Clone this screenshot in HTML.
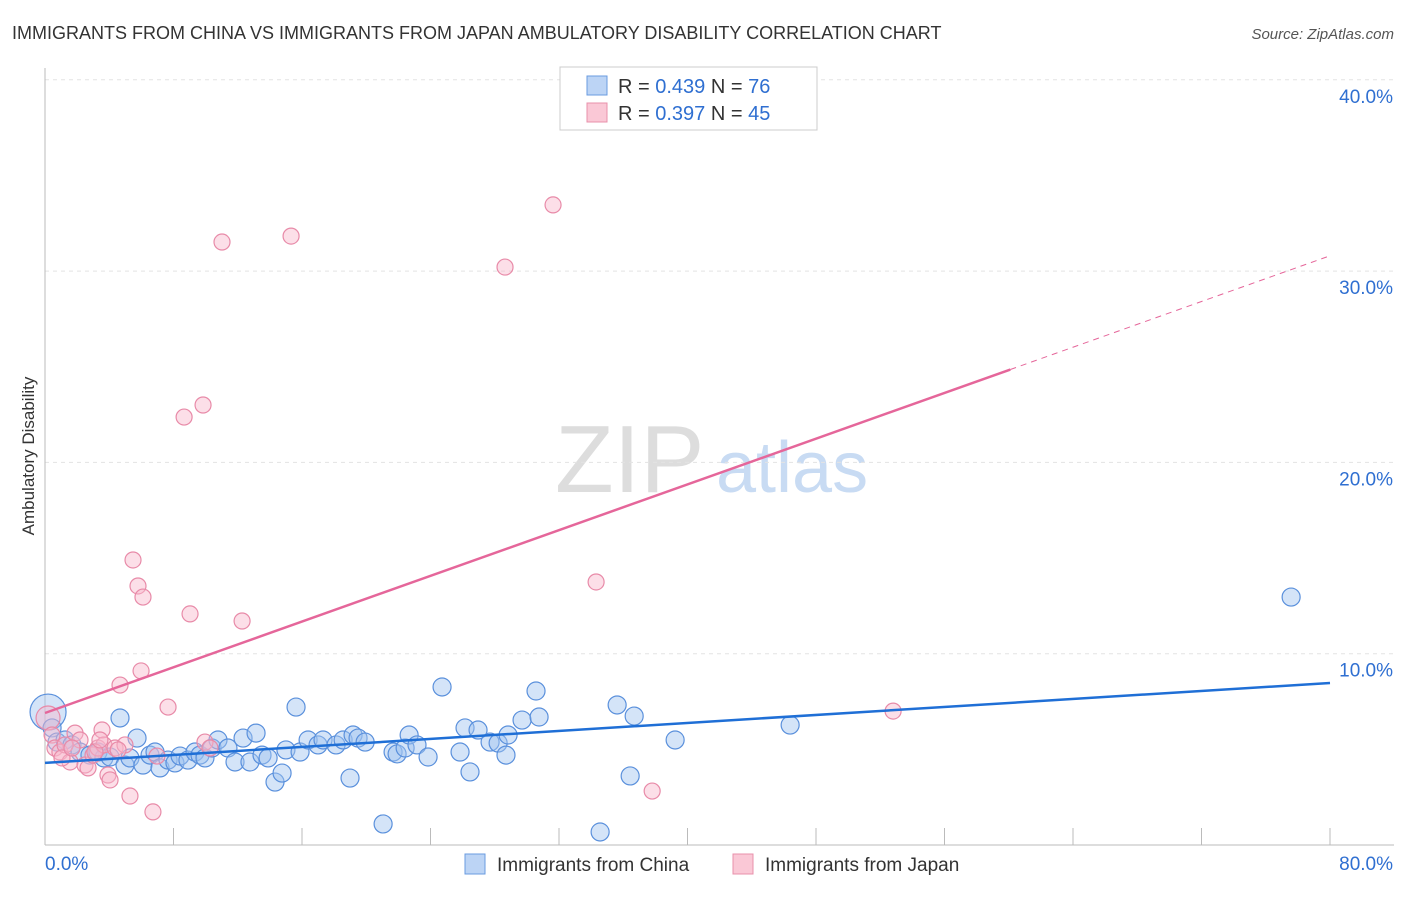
<!DOCTYPE html>
<html><head><meta charset="utf-8"><style>
body{margin:0;background:#fff;font-family:"Liberation Sans",sans-serif;}
svg text{font-family:"Liberation Sans",sans-serif;}
</style></head><body>
<svg id="chart" width="1406" height="892" xmlns="http://www.w3.org/2000/svg">
<text x="12" y="39" font-size="18" fill="#333">IMMIGRANTS FROM CHINA VS IMMIGRANTS FROM JAPAN AMBULATORY DISABILITY CORRELATION CHART</text>
<text x="1394" y="39" font-size="15" fill="#555" font-style="italic" text-anchor="end">Source: ZipAtlas.com</text>
<text transform="translate(34,456) rotate(-90)" font-size="17" fill="#333" text-anchor="middle">Ambulatory Disability</text>
<g><text x="555" y="492" font-size="96" fill="#ddd" font-family="Liberation Serif,serif">ZIP</text><text x="716" y="492" font-size="72" fill="#c8dbf3">atlas</text></g>
<g id="grid"></g>
<g id="axes"></g>
<g id="china"></g>
<g id="japan"></g>
<g id="trends"></g>
<g>
<rect x="560" y="67" width="257" height="63" fill="#fff" stroke="#ccc"/>
<rect x="587" y="76" width="20" height="19" fill="#bcd4f5" stroke="#6a9be0"/>
<rect x="587" y="103" width="20" height="19" fill="#fac8d6" stroke="#e890ab"/>
<text x="618" y="93" font-size="20" fill="#333">R = <tspan fill="#2f6fd1">0.439</tspan>   N = <tspan fill="#2f6fd1">76</tspan></text>
<text x="618" y="120" font-size="20" fill="#333">R = <tspan fill="#2f6fd1">0.397</tspan>   N = <tspan fill="#2f6fd1">45</tspan></text>
</g>
<g>
<rect x="465" y="854" width="20" height="20" fill="#bcd4f5" stroke="#6a9be0"/>
<text x="497" y="871" font-size="19" fill="#333">Immigrants from China</text>
<rect x="733" y="854" width="20" height="20" fill="#fac8d6" stroke="#e890ab"/>
<text x="765" y="871" font-size="19" fill="#333">Immigrants from Japan</text>
</g>
</svg>
<script>
const yTicks=[10,20,30,40];
const yTickLabels=["10.0%","20.0%","30.0%","40.0%"];
const xTickLabels=["0.0%","80.0%"];
const chinaX=[0.19,0.44,0.75,1.25,1.68,2.18,2.8,3.3,3.67,4.05,4.67,4.98,5.29,5.73,6.1,6.54,6.85,7.16,7.66,8.09,8.41,8.9,9.34,9.65,9.96,10.4,10.77,11.39,11.83,12.33,12.76,13.14,13.51,13.89,14.32,14.76,15.0,15.63,15.88,16.38,17.0,17.31,18.12,18.56,18.99,19.18,19.49,19.93,21.05,21.67,21.92,22.42,22.67,23.16,23.85,24.72,25.84,26.15,26.46,26.96,27.71,28.21,28.7,28.83,29.7,30.57,30.76,34.56,35.62,36.43,36.68,39.23,46.39,77.58];
const chinaY=[6.95,6.12,5.38,5.49,5.23,4.86,4.7,4.86,4.55,4.6,6.64,4.18,4.55,5.59,4.18,4.7,4.86,4.03,4.44,4.29,4.65,4.44,4.86,4.7,4.55,5.07,5.49,5.07,4.34,5.59,4.34,5.85,4.7,4.55,3.29,3.76,4.97,7.21,4.86,5.49,5.23,5.49,5.23,5.49,3.5,5.75,5.59,5.38,1.1,4.86,4.76,5.07,5.75,5.23,4.6,8.26,4.86,6.12,3.82,6.01,5.38,5.33,4.7,5.75,6.53,8.05,6.69,0.68,7.32,3.61,6.74,5.49,6.27,12.96];
const japanX=[0.19,0.44,0.62,0.93,1.25,1.56,1.87,2.18,2.49,2.68,2.99,3.3,3.55,3.67,3.92,4.05,4.36,4.67,4.98,5.29,5.48,5.79,6.1,5.98,6.72,6.97,7.66,8.66,9.03,9.84,9.96,10.27,11.02,12.27,15.32,28.64,31.63,34.31,37.8,52.8,1.06,1.68,3.11,4.55,3.42];
const japanY=[6.64,5.75,5.07,4.86,5.23,4.34,5.85,5.49,4.18,4.03,4.7,5.07,6.01,5.23,3.66,3.4,5.07,8.36,5.23,2.56,14.9,13.54,12.96,9.1,1.73,4.65,7.21,22.37,12.08,23.0,5.38,5.07,31.52,11.71,31.83,30.21,33.46,13.75,2.82,7.0,4.55,5.07,4.86,4.97,5.49];
const chinaTrend=[4.29,8.47];
const japanTrend=[6.9,30.8];
const japanSolidEnd=60.1;
const NS="http://www.w3.org/2000/svg";
const X=v=>45+v/80*1285;
const Y=v=>845-v*19.13;
function mk(tag,attrs,parent){const e=document.createElementNS(NS,tag);for(const k in attrs)e.setAttribute(k,attrs[k]);parent.appendChild(e);return e;}
const grid=document.getElementById('grid'),axes=document.getElementById('axes');
yTicks.forEach((t,i)=>{
 const l=mk('line',{x1:45,x2:1394,y1:Y(t),y2:Y(t),stroke:'#e3e3e3','stroke-dasharray':'4,4'},grid);
 
 
 const tx=mk('text',{x:1393,y:Y(t)+23,'font-size':19,fill:'#2f6fd1','text-anchor':'end'},axes);
 tx.textContent=yTickLabels[i];
 
 
});
const ax=mk('line',{x1:45,x2:45,y1:68,y2:845,stroke:'#bbb'},axes);


const bx=mk('line',{x1:45,x2:1394,y1:845,y2:845,stroke:'#bbb'},axes);


for(let i=1;i<=10;i++){const t=mk('line',{x1:X(i*8),x2:X(i*8),y1:828,y2:845,stroke:'#bbb'},axes);
 
 }
[[0,'start',45],[1,'end',1393]].forEach(([i,a,x])=>{const t=mk('text',{x:x,y:870,'font-size':19,fill:'#2f6fd1','text-anchor':a},axes);t.textContent=xTickLabels[i];
 
 });
const cg=document.getElementById('china');
chinaX.forEach((v,i)=>{const c=mk('circle',{cx:X(v),cy:Y(chinaY[i]),r:i===0?18:9,fill:'rgba(160,196,240,0.45)',stroke:'#5a90dc','stroke-width':1.2},cg);
 
 });
const jg=document.getElementById('japan');
japanX.forEach((v,i)=>{const c=mk('circle',{cx:X(v),cy:Y(japanY[i]),r:i===0?12:8,fill:'rgba(248,184,204,0.45)',stroke:'#e88aa8','stroke-width':1.2},jg);
 
 });
const tg=document.getElementById('trends');
const l1=mk('line',{x1:X(0),y1:Y(chinaTrend[0]),x2:X(80),y2:Y(chinaTrend[1]),stroke:'#1f6fd6','stroke-width':2.5},tg);


const jy=x=>japanTrend[0]+(japanTrend[1]-japanTrend[0])*x/80;
const l2=mk('line',{x1:X(0),y1:Y(jy(0)),x2:X(japanSolidEnd),y2:Y(jy(japanSolidEnd)),stroke:'#e5669a','stroke-width':2.5},tg);


const l3=mk('line',{x1:X(japanSolidEnd),y1:Y(jy(japanSolidEnd)),x2:X(80),y2:Y(jy(80)),stroke:'#e5669a','stroke-width':1,'stroke-dasharray':'6,5'},tg);


</script>
</body></html>
